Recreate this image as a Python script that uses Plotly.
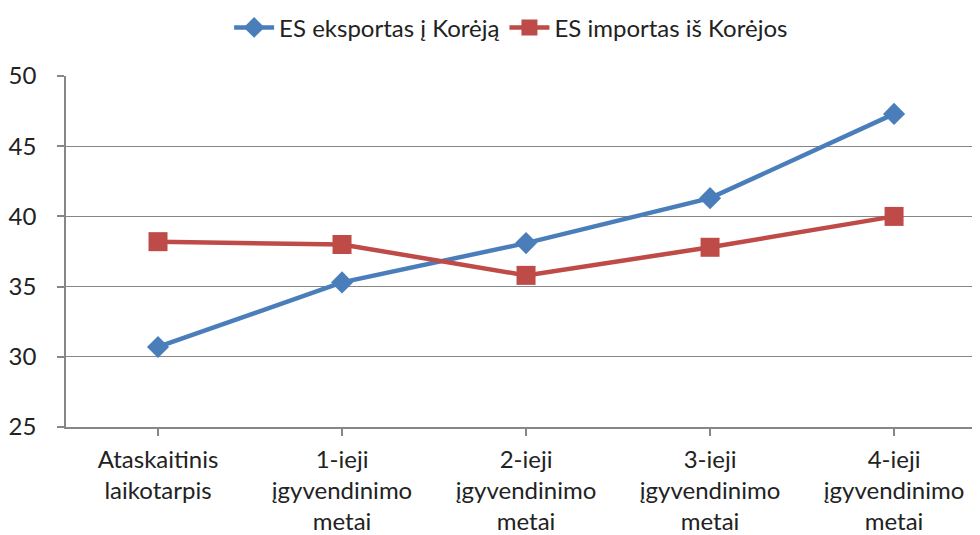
import plotly.graph_objects as go

categories = ["Ataskaitinis<br>laikotarpis", "1-ieji<br>įgyvendinimo<br>metai", "2-ieji<br>įgyvendinimo<br>metai",
              "3-ieji<br>įgyvendinimo<br>metai", "4-ieji<br>įgyvendinimo<br>metai"]
export_vals = [30.7, 35.3, 38.1, 41.3, 47.3]
import_vals = [38.2, 38.0, 35.8, 37.8, 40.0]
series_names = ["ES eksportas į Korėją", "ES importas iš Korėjos"]
y_ticks = [25, 30, 35, 40, 45, 50]

FONT = "Lato"
fig = go.Figure()
fig.add_trace(go.Scatter(
    x=list(range(len(categories))), y=export_vals, name=series_names[0],
    mode="lines+markers", line=dict(color="#4A7EBB", width=4.5),
    marker=dict(symbol="diamond", size=17, color="#4A7EBB")))
fig.add_trace(go.Scatter(
    x=list(range(len(categories))), y=import_vals, name=series_names[1],
    mode="lines+markers", line=dict(color="#BE4B48", width=4.5),
    marker=dict(symbol="square", size=19, color="#BE4B48")))

fig.update_layout(
    width=980, height=535,
    margin=dict(l=58, r=8, t=68, b=116),
    paper_bgcolor="white", plot_bgcolor="white",
    font=dict(family=FONT, size=23, color="#222222"),
    showlegend=True,
    legend=dict(orientation="h", x=0.487, xanchor="center",
                yref="container", y=0.963, yanchor="middle",
                font=dict(size=24), itemwidth=40, tracegroupgap=0),
    xaxis=dict(
        tickmode="array", tickvals=list(range(len(categories))), ticktext=categories,
        range=[-0.5, 4.467], showgrid=False, zeroline=False, automargin=False,
        showline=True, linecolor="#868686", linewidth=1.5,
        ticks="outside", ticklen=7, tickcolor="#868686", tickwidth=1.5,
        tickfont=dict(size=24), ticklabelstandoff=3, fixedrange=True),
    yaxis=dict(
        range=[25, 50], tickvals=y_ticks, showgrid=True, gridcolor="#868686", gridwidth=1.2,
        zeroline=False, showline=True, linecolor="#868686", linewidth=1.5, automargin=False,
        ticks="outside", ticklen=7, tickcolor="#868686", tickwidth=1.5,
        tickfont=dict(size=24), ticklabelstandoff=16),
)
fig.write_html("out.html")
